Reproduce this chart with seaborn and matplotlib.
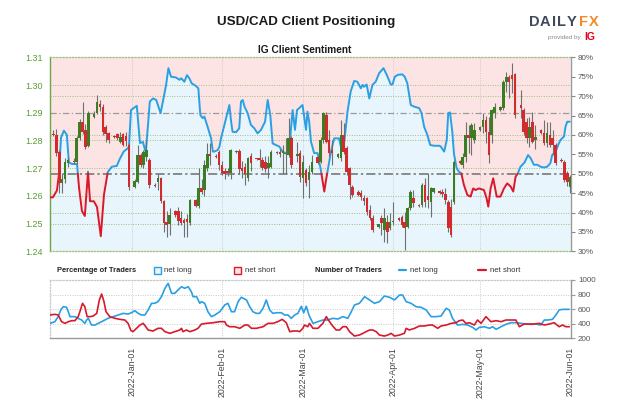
import numpy as np
import pandas as pd
import matplotlib
matplotlib.use("Agg")
import matplotlib.pyplot as plt
import matplotlib.dates as mdates
from matplotlib.patches import Rectangle
import seaborn as sns

# ---- USD/CAD daily candles, Sun..Fri (Saturdays skipped), 5 Dec 2021 - 1 Jun 2022
candle_open = [
    1.2825, 1.2820, 1.2760, 1.2645, 1.2660, 1.2720,
    1.2725, 1.2722, 1.2808, 1.2868, 1.2838, 1.2781,
    1.2885, 1.2900, 1.2930, 1.2922, 1.2850, 1.2826,
    1.2815, 1.2822, 1.2795, 1.2822, 1.2815, 1.2784,
    1.2633, 1.2651, 1.2748, 1.2712, 1.2742, 1.2730,
    1.2640, 1.2650, 1.2663, 1.2580, 1.2505, 1.2498,
    1.2545, 1.2545, 1.2519, 1.2513, 1.2515, 1.2501,
    1.2585, 1.2562, 1.2627, 1.2621, 1.2700, 1.2750,
    1.2745, 1.2760, 1.2712, 1.2688, 1.2690, 1.2682,
    1.2760, 1.2762, 1.2700, 1.2705, 1.2663, 1.2745,
    1.2735, 1.2735, 1.2730, 1.2722, 1.2700, 1.2705,
    1.2755, 1.2758, 1.2755, 1.2750, 1.2748, 1.2808,
    1.2745, 1.2753, 1.2663, 1.2693, 1.2657, 1.2687,
    1.2741, 1.2723, 1.2802, 1.2892, 1.2802, 1.2766,
    1.2739, 1.2735, 1.2820, 1.2772, 1.2700, 1.2633,
    1.2615, 1.2609, 1.2591, 1.2591, 1.2549, 1.2519,
    1.2489, 1.2519, 1.2477, 1.2507, 1.2483, 1.2505,
    1.2519, 1.2525, 1.2507, 1.2489, 1.2555, 1.2591,
    1.2567, 1.2567, 1.2639, 1.2600, 1.2579, 1.2615,
    1.2618, 1.2615, 1.2605, 1.2579, 1.2560, 1.2579,
    1.2727, 1.2711, 1.2741, 1.2820, 1.2808, 1.2800,
    1.2838, 1.2850, 1.2874, 1.2832, 1.2820, 1.2900,
    1.2910, 1.2916, 1.3012, 1.3030, 1.3036, 1.3039,
    1.2928, 1.2910, 1.2868, 1.2808, 1.2868, 1.2800,
    1.2838, 1.2826, 1.2790, 1.2820, 1.2808, 1.2784,
    1.2730, 1.2724, 1.2681, 1.2633,
]
candle_high = [
    1.2838, 1.2840, 1.2765, 1.2680, 1.2735, 1.2740,
    1.2735, 1.2815, 1.2878, 1.2940, 1.2860, 1.2905,
    1.2905, 1.2965, 1.2945, 1.2930, 1.2855, 1.2830,
    1.2818, 1.2828, 1.2830, 1.2828, 1.2830, 1.2790,
    1.2660, 1.2782, 1.2755, 1.2765, 1.2800, 1.2735,
    1.2645, 1.2680, 1.2668, 1.2585, 1.2545, 1.2555,
    1.2550, 1.2560, 1.2545, 1.2520, 1.2535, 1.2590,
    1.2590, 1.2699, 1.2660, 1.2730, 1.2790, 1.2790,
    1.2750, 1.2765, 1.2725, 1.2700, 1.2700, 1.2770,
    1.2765, 1.2770, 1.2725, 1.2720, 1.2740, 1.2755,
    1.2738, 1.2770, 1.2740, 1.2745, 1.2745, 1.2765,
    1.2762, 1.2770, 1.2785, 1.2810, 1.2880, 1.2815,
    1.2796, 1.2765, 1.2748, 1.2700, 1.2711, 1.2748,
    1.2745, 1.2814, 1.2904, 1.2904, 1.2838, 1.2802,
    1.2755, 1.2874, 1.2862, 1.2780, 1.2705, 1.2640,
    1.2620, 1.2621, 1.2603, 1.2597, 1.2567, 1.2531,
    1.2500, 1.2531, 1.2555, 1.2531, 1.2537, 1.2579,
    1.2525, 1.2531, 1.2543, 1.2561, 1.2621, 1.2621,
    1.2570, 1.2645, 1.2663, 1.2681, 1.2633, 1.2630,
    1.2622, 1.2625, 1.2630, 1.2585, 1.2590, 1.2730,
    1.2730, 1.2753, 1.2868, 1.2856, 1.2862, 1.2862,
    1.2852, 1.2898, 1.2890, 1.2886, 1.2915, 1.2935,
    1.2925, 1.3018, 1.3048, 1.3036, 1.3078, 1.3045,
    1.2982, 1.2916, 1.2880, 1.2886, 1.2904, 1.2855,
    1.2840, 1.2874, 1.2868, 1.2868, 1.2838, 1.2790,
    1.2735, 1.2728, 1.2690, 1.2675,
]
candle_low = [
    1.2815, 1.2745, 1.2610, 1.2610, 1.2645, 1.2705,
    1.2715, 1.2715, 1.2800, 1.2825, 1.2770, 1.2775,
    1.2880, 1.2895, 1.2905, 1.2820, 1.2795, 1.2790,
    1.2810, 1.2800, 1.2790, 1.2780, 1.2780, 1.2620,
    1.2630, 1.2645, 1.2705, 1.2700, 1.2725, 1.2630,
    1.2632, 1.2620, 1.2575, 1.2470, 1.2450, 1.2460,
    1.2525, 1.2495, 1.2495, 1.2453, 1.2453, 1.2495,
    1.2560, 1.2555, 1.2605, 1.2600, 1.2690, 1.2710,
    1.2738, 1.2695, 1.2675, 1.2660, 1.2670, 1.2660,
    1.2755, 1.2680, 1.2665, 1.2640, 1.2655, 1.2690,
    1.2730, 1.2705, 1.2695, 1.2685, 1.2665, 1.2700,
    1.2750, 1.2740, 1.2680, 1.2680, 1.2740, 1.2700,
    1.2723, 1.2650, 1.2591, 1.2635, 1.2591, 1.2680,
    1.2715, 1.2717, 1.2790, 1.2790, 1.2745, 1.2711,
    1.2735, 1.2725, 1.2752, 1.2675, 1.2590, 1.2595,
    1.2600, 1.2585, 1.2567, 1.2531, 1.2513, 1.2471,
    1.2485, 1.2459, 1.2435, 1.2429, 1.2477, 1.2495,
    1.2508, 1.2489, 1.2405, 1.2483, 1.2549, 1.2561,
    1.2560, 1.2561, 1.2561, 1.2555, 1.2525, 1.2610,
    1.2608, 1.2595, 1.2570, 1.2470, 1.2450, 1.2570,
    1.2715, 1.2700, 1.2723, 1.2754, 1.2748, 1.2790,
    1.2834, 1.2826, 1.2790, 1.2718, 1.2790, 1.2880,
    1.2905, 1.2910, 1.2976, 1.2952, 1.2970, 1.2880,
    1.2880, 1.2820, 1.2790, 1.2778, 1.2790, 1.2770,
    1.2825, 1.2784, 1.2778, 1.2778, 1.2748, 1.2712,
    1.2722, 1.2650, 1.2635, 1.2609,
]
candle_close = [
    1.2820, 1.2755, 1.2645, 1.2662, 1.2722, 1.2730,
    1.2722, 1.2808, 1.2868, 1.2832, 1.2778, 1.2898,
    1.2895, 1.2940, 1.2922, 1.2832, 1.2822, 1.2802,
    1.2812, 1.2808, 1.2814, 1.2784, 1.2798, 1.2633,
    1.2655, 1.2748, 1.2712, 1.2760, 1.2766, 1.2640,
    1.2636, 1.2663, 1.2580, 1.2501, 1.2495, 1.2530,
    1.2532, 1.2510, 1.2501, 1.2501, 1.2505, 1.2585,
    1.2562, 1.2627, 1.2615, 1.2711, 1.2750, 1.2745,
    1.2742, 1.2712, 1.2682, 1.2680, 1.2683, 1.2766,
    1.2762, 1.2697, 1.2690, 1.2680, 1.2735, 1.2720,
    1.2732, 1.2728, 1.2700, 1.2698, 1.2718, 1.2760,
    1.2760, 1.2752, 1.2762, 1.2752, 1.2808, 1.2712,
    1.2752, 1.2669, 1.2723, 1.2645, 1.2687, 1.2723,
    1.2717, 1.2802, 1.2898, 1.2796, 1.2753, 1.2753,
    1.2751, 1.2820, 1.2760, 1.2687, 1.2640, 1.2603,
    1.2603, 1.2597, 1.2582, 1.2543, 1.2519, 1.2477,
    1.2497, 1.2501, 1.2519, 1.2471, 1.2507, 1.2510,
    1.2513, 1.2495, 1.2483, 1.2555, 1.2615, 1.2573,
    1.2563, 1.2639, 1.2579, 1.2585, 1.2627, 1.2627,
    1.2612, 1.2605, 1.2585, 1.2483, 1.2459, 1.2723,
    1.2720, 1.2741, 1.2820, 1.2808, 1.2856, 1.2838,
    1.2850, 1.2874, 1.2832, 1.2748, 1.2910, 1.2920,
    1.2922, 1.3012, 1.3030, 1.3012, 1.3020, 1.2892,
    1.2916, 1.2832, 1.2808, 1.2850, 1.2796, 1.2812,
    1.2828, 1.2790, 1.2826, 1.2784, 1.2784, 1.2718,
    1.2726, 1.2657, 1.2651, 1.2669,
]

# ---- IG client sentiment, % of traders net long (days from 1 Jan 2022)
sent_day = [
    -28.2, -27.2, -25.8, -25.1, -24.4, -23.4, -22.4, -21.7, -20.6, -18.9,
    -18.2, -17.2, -16.2, -15.1, -14.4, -13.1, -12.0, -10.7, -9.6, -8.3,
    -6.9, -5.2, -4.1, -2.8, -1.0, -0.3, 1.7, 2.8, 3.8, 4.8,
    6.2, 7.3, 8.4, 9.9, 10.7, 11.8, 12.6, 13.5, 15.2, 16.4,
    17.0, 18.1, 19.0, 19.8, 20.6, 22.1, 22.9, 23.6, 24.4, 25.0,
    26.1, 27.3, 27.9, 28.4, 29.6, 30.2, 30.7, 31.9, 33.6, 34.2,
    34.7, 35.9, 37.0, 37.6, 38.2, 38.8, 39.9, 41.0, 42.2, 43.3,
    44.5, 45.9, 46.8, 47.7, 48.5, 49.6, 50.8, 51.9, 53.7, 54.4,
    55.4, 56.2, 56.9, 58.2, 58.8, 60.0, 60.5, 61.1, 61.7, 62.8,
    64.0, 65.0, 66.3, 66.8, 67.4, 68.0, 68.6, 69.7, 71.4, 72.0,
    73.2, 74.3, 75.4, 76.6, 77.7, 78.9, 79.5, 80.0, 80.9, 81.8,
    82.9, 84.0, 85.2, 86.7, 87.8, 89.2, 89.8, 90.6, 91.7, 93.2,
    94.0, 94.9, 96.1, 97.2, 99.0, 99.8, 100.7, 101.8, 102.8, 104.1,
    106.0, 106.4, 107.6, 108.5, 109.0, 109.6, 110.4, 111.0, 111.9, 112.7,
    113.5, 114.4, 115.6, 116.7, 117.6, 118.4, 119.6, 121.3, 122.2, 122.8,
    123.6, 124.5, 125.7, 127.0, 128.2, 129.3, 130.5, 131.4, 132.2, 133.0,
    133.9, 135.3, 136.5, 137.4, 138.5, 139.7, 140.8, 142.0, 143.1, 144.2,
    144.8, 146.0, 147.1, 147.7, 148.9, 149.4, 150.0, 150.9,
]
sent_pct = [
    43.9, 43.9, 45.7, 50.0, 59.3, 61.1, 60.0, 52.9, 52.5, 52.5,
    46.4, 40.4, 39.1, 50.5, 42.9, 42.9, 41.4, 33.9, 44.6, 50.4,
    51.8, 52.0, 53.9, 55.7, 56.8, 66.4, 67.5, 57.9, 58.2, 55.4,
    68.6, 69.4, 69.0, 65.6, 68.6, 72.9, 77.2, 75.0, 74.8, 74.2,
    74.6, 73.7, 75.4, 74.6, 73.3, 72.6, 72.0, 65.1, 64.3, 64.7,
    62.1, 59.1, 55.7, 55.7, 56.1, 57.0, 59.1, 62.6, 67.7, 63.4,
    60.8, 60.7, 61.7, 68.6, 69.0, 67.3, 65.6, 62.6, 61.7, 60.4,
    61.3, 63.4, 69.0, 65.1, 57.8, 57.4, 57.0, 55.7, 55.0, 58.0,
    66.4, 61.3, 66.4, 67.3, 67.7, 61.3, 66.0, 63.4, 58.3, 55.3,
    55.3, 51.4, 45.4, 47.9, 50.5, 53.1, 55.7, 59.1, 59.1, 57.0,
    58.3, 66.0, 71.2, 73.9, 73.7, 72.0, 72.9, 72.4, 73.0, 69.4,
    72.9, 73.7, 75.9, 77.2, 75.5, 73.0, 73.0, 75.0, 75.5, 75.6,
    75.0, 73.3, 67.7, 67.3, 66.9, 65.6, 62.1, 60.0, 57.4, 57.2,
    57.2, 57.0, 55.7, 58.7, 65.6, 65.8, 60.8, 55.0, 51.4, 50.5,
    50.1, 47.1, 44.5, 44.1, 46.2, 45.8, 46.2, 45.8, 43.7, 41.5,
    46.2, 48.8, 44.1, 44.1, 46.2, 47.5, 46.7, 45.4, 49.2, 50.1,
    51.8, 52.9, 54.8, 54.0, 52.3, 52.3, 51.8, 51.6, 51.8, 52.7,
    54.8, 55.7, 57.8, 58.7, 59.6, 62.1, 63.4, 63.4,
]

# ---- number of traders (days from 1 Jan 2022)
long_day = [
    -28.2, -26.5, -25.4, -24.4, -23.6, -22.5, -21.9, -21.3, -19.6, -18.5,
    -17.3, -16.2, -15.6, -15.0, -13.9, -12.7, -11.6, -10.4, -9.3, -8.2,
    -6.4, -4.7, -3.0, -1.3, -0.1, 1.0, 2.2, 3.3, 4.5, 5.6,
    6.8, 7.9, 9.0, 10.2, 11.4, 12.5, 13.7, 14.8, 15.9, 17.1,
    18.2, 19.4, 20.5, 21.1, 22.3, 23.4, 24.0, 25.1, 26.2, 27.4,
    28.6, 30.3, 32.0, 33.1, 34.3, 35.4, 36.6, 37.7, 39.5, 40.6,
    41.7, 42.9, 44.0, 45.2, 46.3, 47.5, 48.6, 49.8, 51.5, 52.6,
    53.8, 54.9, 56.1, 57.2, 58.4, 59.2, 60.1, 61.0, 62.4, 64.1,
    65.8, 67.5, 69.2, 71.0, 72.7, 74.4, 75.6, 76.7, 78.4, 80.2,
    81.9, 83.6, 85.3, 87.0, 88.8, 90.5, 92.2, 93.3, 94.5, 96.2,
    97.9, 99.7, 101.4, 103.1, 104.8, 106.5, 108.3, 109.4, 110.5, 112.2,
    114.0, 115.7, 117.4, 118.6, 119.7, 121.4, 123.2, 124.3, 125.5, 127.2,
    128.9, 130.6, 132.3, 134.1, 135.8, 137.5, 139.2, 140.9, 142.1, 143.2,
    144.9, 146.1, 147.2, 148.4, 149.5, 150.7,
]
long_count = [
    405, 428, 497, 597, 634, 625, 565, 497, 497, 474,
    451, 405, 451, 474, 382, 382, 405, 428, 451, 474,
    497, 520, 542, 533, 551, 579, 542, 520, 520, 588,
    680, 680, 703, 771, 886, 954, 817, 817, 863, 908,
    886, 908, 840, 771, 771, 680, 703, 680, 565, 497,
    520, 565, 657, 680, 565, 565, 703, 763, 726, 634,
    565, 542, 542, 611, 726, 588, 542, 551, 551, 520,
    520, 474, 520, 542, 640, 550, 640, 520, 405, 428,
    451, 451, 474, 465, 497, 474, 565, 657, 680, 771,
    726, 680, 703, 780, 763, 726, 794, 794, 703, 680,
    634, 625, 588, 497, 497, 505, 611, 588, 474, 382,
    391, 382, 350, 314, 350, 359, 337, 359, 323, 359,
    392, 414, 414, 405, 396, 391, 396, 382, 451, 451,
    460, 520, 588, 597, 597, 597,
]
short_day = [
    -28.2, -26.5, -25.4, -24.2, -23.0, -21.9, -20.7, -19.6, -18.5, -17.9,
    -17.0, -16.2, -15.4, -14.4, -13.3, -12.1, -11.2, -10.4, -9.6, -8.9,
    -7.6, -5.8, -4.1, -2.4, -1.3, -0.3, 0.4, 1.6, 2.8, 3.9,
    4.8, 5.6, 7.3, 9.0, 10.2, 11.4, 13.1, 14.8, 16.5, 17.1,
    17.6, 18.8, 20.0, 21.7, 22.8, 24.0, 25.7, 28.0, 30.3, 32.0,
    32.6, 33.7, 35.4, 37.2, 38.9, 40.0, 41.2, 42.9, 45.2, 46.9,
    48.6, 50.3, 51.8, 53.2, 54.4, 55.5, 57.2, 57.8, 58.9, 59.5,
    60.6, 61.2, 62.4, 64.1, 65.8, 67.0, 68.1, 69.2, 70.4, 71.6,
    72.7, 73.9, 75.0, 76.7, 78.4, 79.6, 80.7, 81.9, 83.0, 84.2,
    85.3, 87.0, 88.2, 89.3, 90.5, 92.2, 93.9, 94.5, 95.6, 97.4,
    99.1, 100.8, 102.5, 103.6, 105.4, 106.5, 108.3, 110.0, 111.7, 112.8,
    114.0, 115.1, 116.3, 118.0, 119.1, 120.3, 122.0, 123.7, 125.5, 127.2,
    128.9, 130.6, 132.3, 133.5, 135.2, 136.9, 138.6, 140.4, 142.1, 143.8,
    145.5, 147.2, 148.4, 149.5, 150.7,
]
short_count = [
    520, 529, 520, 428, 405, 428, 442, 442, 497, 565,
    680, 634, 497, 497, 506, 542, 726, 808, 703, 565,
    497, 474, 460, 451, 405, 305, 291, 337, 382, 405,
    359, 314, 300, 337, 337, 291, 268, 291, 314, 337,
    291, 314, 291, 314, 337, 396, 405, 414, 428, 428,
    382, 359, 359, 337, 382, 382, 337, 337, 359, 405,
    405, 428, 460, 414, 291, 300, 300, 291, 337, 382,
    359, 405, 337, 337, 405, 497, 428, 369, 314, 314,
    359, 359, 291, 231, 245, 268, 291, 314, 314, 291,
    245, 231, 245, 268, 231, 245, 268, 337, 314, 337,
    369, 369, 382, 382, 337, 369, 382, 405, 414, 442,
    451, 405, 414, 382, 451, 405, 497, 428, 442, 428,
    451, 451, 451, 359, 396, 396, 396, 405, 382, 396,
    414, 359, 382, 359, 359,
]

month_ticks = ["2022-01-01", "2022-02-01", "2022-03-01", "2022-04-01", "2022-05-01", "2022-06-01"]
month_labels = ["2022-Jan-01", "2022-Feb-01", "2022-Mar-01", "2022-Apr-01", "2022-May-01", "2022-Jun-01"]
price_ticks = [1.24, 1.25, 1.26, 1.27, 1.28, 1.29, 1.30, 1.31]
pct_ticks = [30, 35, 40, 45, 50, 55, 60, 65, 70, 75, 80]
count_ticks = [200, 400, 600, 800, 1000]

BLUE = "#2a9fe3"
RED = "#d8192b"
GREEN_C = "#3a7d22"
RED_C = "#d32a2e"
WICK = "#6f6f6f"
GRID_G = "#9fbf7c"
GRID_V = "#c9c9c9"
LBL_G = "#5d9b35"
LBL = "#555555"

sns.set_style("white")
plt.rcParams["font.family"] = ["Liberation Sans", "DejaVu Sans"]

P_LO, P_HI, Q_LO, Q_HI = 1.24, 1.31, 30.0, 80.0


def pct_to_price(p):
    return P_LO + (np.asarray(p, dtype=float) - Q_LO) * (P_HI - P_LO) / (Q_HI - Q_LO)


def price_to_pct(v):
    return Q_LO + (np.asarray(v, dtype=float) - P_LO) * (Q_HI - Q_LO) / (P_HI - P_LO)


def split_at(x, y, level):
    xs, ys = [x[0]], [y[0]]
    for i in range(1, len(x)):
        if (y[i - 1] - level) * (y[i] - level) < 0:
            t = (level - y[i - 1]) / (y[i] - y[i - 1])
            xs.append(x[i - 1] + t * (x[i] - x[i - 1]))
            ys.append(level)
        xs.append(x[i])
        ys.append(y[i])
    return np.array(xs), np.array(ys)


jan1 = mdates.date2num(pd.Timestamp("2022-01-01").to_pydatetime())
days = pd.date_range("2021-12-05", "2022-06-01", freq="D")
days = days[days.dayofweek != 5]
cx = mdates.date2num(days.to_pydatetime())
o = np.array(candle_open)
h = np.array(candle_high)
l = np.array(candle_low)
c = np.array(candle_close)

sx = jan1 + np.array(sent_day)
sp = np.array(sent_pct)
month_x = mdates.date2num(pd.to_datetime(month_ticks).to_pydatetime())
x_lo, x_hi = jan1 - 28.2, jan1 + 151.3

W, H = 624, 416
fig = plt.figure(figsize=(W / 100, H / 100), dpi=100)

# ---------------- price / sentiment panel
ax = fig.add_axes([50 / W, 1 - 251.3 / H, 521 / W, 194 / H])
ax.set_xlim(x_lo, x_hi)
ax.set_ylim(P_LO, P_HI)

ax.fill_between(sx, pct_to_price(sp), P_LO, color="#e8f5fd", lw=0, zorder=0)
ax.fill_between(sx, pct_to_price(sp), P_HI, color="#fde4e4", lw=0, zorder=0)

for v in [1.25, 1.26, 1.27, 1.28, 1.30]:
    ax.axhline(v, color=GRID_G, lw=0.7, ls=(0, (1, 1.5)), zorder=1)
for q in [40, 60, 70]:
    ax.axhline(pct_to_price(q), color=GRID_G, lw=0.7, ls=(0, (1, 1.5)), zorder=1)
ax.axhline(1.29, color="#9a9a9a", lw=0.9, ls=(0, (5, 2, 1, 2)), zorder=1)
ax.axhline(pct_to_price(50), color="#6e6e6e", lw=1.1, ls=(0, (6, 2, 1.5, 2)), zorder=1)
for mx in month_x[:-1]:
    ax.axvline(mx, color=GRID_V, lw=0.7, ls=(0, (1, 1.5)), zorder=1)

# sentiment line: blue while majority long, red while majority short
lx, ly = split_at(sx, sp, 50.0)
ax.plot(lx, pct_to_price(np.where(ly >= 50, ly, np.nan)), color=BLUE, lw=1.4, zorder=3)
ax.plot(lx, pct_to_price(np.where(ly <= 50, ly, np.nan)), color=RED, lw=1.4, zorder=3)

# candles
up = c >= o
ax.vlines(cx, l, h, color=WICK, lw=0.8, zorder=4)
body_lo = np.minimum(o, c)
body_h = np.maximum(np.abs(c - o), 0.00035)
ax.bar(cx, body_h, bottom=body_lo, width=0.88,
       color=np.where(up, GREEN_C, RED_C), lw=0, zorder=5)

ax.set_yticks(price_ticks)
ax.set_yticklabels([f"{v:.2f}" for v in price_ticks])
ax.tick_params(axis="y", colors=LBL_G, labelsize=6.5, length=3, width=0.8, pad=2)
ax.tick_params(axis="y", labelcolor=LBL_G)
ax.set_xticks([])
for s in ["top", "bottom"]:
    ax.spines[s].set_color(GRID_G)
    ax.spines[s].set_linestyle((0, (1, 1.5)))
    ax.spines[s].set_linewidth(0.9)
ax.spines["left"].set_color("#6aa843")
ax.spines["left"].set_linewidth(1.0)
ax.spines["right"].set_visible(False)

sec = ax.secondary_yaxis("right", functions=(price_to_pct, pct_to_price))
sec.set_yticks(pct_ticks)
sec.set_yticklabels([f"{q}%" for q in pct_ticks])
sec.tick_params(colors="#888888", labelcolor=LBL, labelsize=5.8, length=3, width=0.8, pad=2)
sec.spines["right"].set_color("#999999")
sec.spines["right"].set_linewidth(1.0)

# ---------------- number of traders panel
axn = fig.add_axes([50 / W, 1 - 338.3 / H, 521 / W, 58.3 / H])
axn.set_xlim(x_lo, x_hi)
axn.set_ylim(200, 1000)
for v in [400, 600, 800]:
    axn.axhline(v, color=GRID_V, lw=0.7, ls=(0, (1, 1.5)), zorder=0)
for mx in month_x[:-1]:
    axn.axvline(mx, color=GRID_V, lw=0.7, ls=(0, (1, 1.5)), zorder=0)
sns.lineplot(x=jan1 + np.array(long_day), y=long_count, ax=axn, color=BLUE,
             lw=1.2, sort=False, estimator=None, zorder=3)
sns.lineplot(x=jan1 + np.array(short_day), y=short_count, ax=axn, color=RED,
             lw=1.2, sort=False, estimator=None, zorder=3)
axn.set_xlabel("")
axn.set_ylabel("")
axn.yaxis.tick_right()
axn.set_yticks(count_ticks)
axn.set_yticklabels([str(v) for v in count_ticks])
axn.set_xticks(month_x)
axn.set_xticklabels(month_labels, rotation=90, fontsize=6.3, color="#444444")
axn.tick_params(axis="x", colors="#999999", labelcolor="#444444", length=3, width=0.8, pad=3)
axn.tick_params(axis="y", colors="#999999", labelcolor=LBL, labelsize=5.8, length=3, width=0.8, pad=2)
for s in ["top", "left"]:
    axn.spines[s].set_color(GRID_V)
    axn.spines[s].set_linestyle((0, (1, 1.5)))
    axn.spines[s].set_linewidth(0.9)
for s in ["right", "bottom"]:
    axn.spines[s].set_color("#999999")
    axn.spines[s].set_linewidth(1.0)

# ---------------- titles, legend row and logo (pixel overlay)
ov = fig.add_axes([0, 0, 1, 1])
ov.set_xlim(0, W)
ov.set_ylim(H, 0)
ov.set_axis_off()
ov.patch.set_alpha(0)

ov.text(306, 22, "USD/CAD Client Positioning", ha="center", va="center",
        fontsize=9.6, fontweight="bold", color="#1b1b1b")
ov.text(305, 50, "IG Client Sentiment", ha="center", va="center",
        fontsize=7.3, fontweight="bold", color="#1b1b1b")

for ch, px, col in [("D", 534, "#3e4a5c"), ("A", 545, "#3e4a5c"), ("I", 554, "#3e4a5c"),
                    ("L", 562, "#3e4a5c"), ("Y", 572, "#3e4a5c"),
                    ("F", 583, "#f28c28"), ("X", 594, "#f28c28")]:
    ov.text(px, 22, ch, ha="center", va="center", fontsize=10.5,
            fontweight="bold", color=col)
ov.text(581, 37, "provided by", ha="right", va="center", fontsize=4.6, color="#8a8a8a")
ov.text(584, 37, "IG", ha="left", va="center", fontsize=7.5, fontweight="bold", color="#e3001b")

ly0 = 270
ov.text(57, ly0, "Percentage of Traders", va="center", fontsize=5.4, fontweight="bold", color="#222222")
ov.add_patch(Rectangle((154, ly0 - 3.5), 6.5, 7, facecolor="#e8f5fd", edgecolor=BLUE, lw=1.0))
ov.text(164, ly0, "net long", va="center", fontsize=5.6, color="#333333")
ov.add_patch(Rectangle((234, ly0 - 3.5), 6.5, 7, facecolor="#fde4e4", edgecolor=RED, lw=1.0))
ov.text(245, ly0, "net short", va="center", fontsize=5.6, color="#333333")
ov.text(315, ly0, "Number of Traders", va="center", fontsize=5.4, fontweight="bold", color="#222222")
ov.plot([399, 406], [ly0, ly0], color=BLUE, lw=1.6)
ov.text(410, ly0, "net long", va="center", fontsize=5.6, color="#333333")
ov.plot([478, 486], [ly0, ly0], color=RED, lw=1.6)
ov.text(490, ly0, "net short", va="center", fontsize=5.6, color="#333333")

fig.savefig("out.png", dpi=100)
